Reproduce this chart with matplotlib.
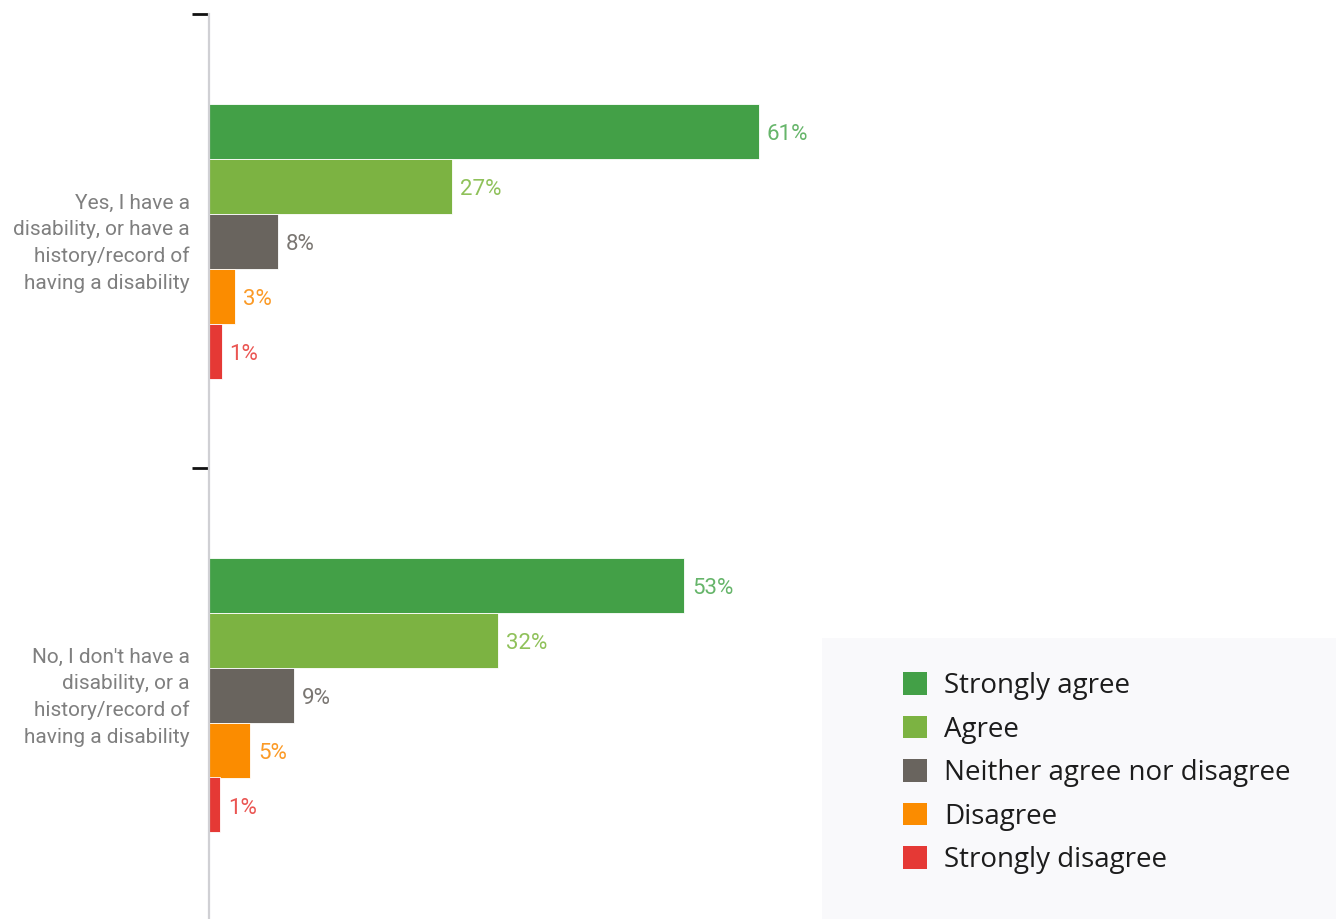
import matplotlib
matplotlib.use("Agg")
import matplotlib.pyplot as plt
from matplotlib.patches import Patch, Rectangle

categories = [
    "Yes, I have a\ndisability, or have a\nhistory/record of\nhaving a disability",
    "No, I don't have a\ndisability, or a\nhistory/record of\nhaving a disability",
]
responses = ["Strongly agree", "Agree", "Neither agree nor disagree", "Disagree", "Strongly disagree"]
yes_values = [61, 27, 7.6, 2.9, 1.4]
no_values = [52.7, 32, 9.4, 4.6, 1.2]
bar_colors = ["#43a047", "#7cb342", "#69645e", "#fb8c00", "#e53935"]
label_colors = ["#66b56a", "#8fc15a", "#7a7672", "#fb9a26", "#ea5552"]

narrow = "Roboto"

W, H = 1336, 919
fig = plt.figure(figsize=(W / 100, H / 100), dpi=100)
ax_left, ax_top = 209 / W, 1 - 14 / H
ax = fig.add_axes([ax_left, 0, 1 - ax_left - 0.3, ax_top])
data_x_per_px = 61 / (759 - 209)
ax.set_xlim(0, (ax.get_position().width * W) * data_x_per_px)
band_px = 454
ax.set_ylim((H - 14) / band_px, 0)

bar_h = 55 / band_px
for ci, vals in enumerate([yes_values, no_values]):
    center = ci + 0.5
    for ri, v in enumerate(vals):
        y = center + (ri - 2) * bar_h
        ax.barh(y, v, height=bar_h, color=bar_colors[ri], edgecolor="#ffffff",
                linewidth=0.6, align="center")
        ax.text(v + 8 * data_x_per_px, y + 3.5 / band_px, f"{round(v):d}%", va="center",
                ha="left", color=label_colors[ri], fontsize=16, family=narrow)

for s in ["top", "right", "bottom"]:
    ax.spines[s].set_visible(False)
ax.spines["left"].set_color("#d0d0d4")
ax.spines["left"].set_linewidth(1.6)
ax.set_xticks([])
ax.set_yticks([0, 1])
ax.set_yticklabels(["", ""])
ax.tick_params(axis="y", which="major", length=12, width=2, color="#111111", direction="out")
ax.set_yticks([0.5 - 3.5 / band_px, 1.5 - 3.5 / band_px], minor=True)
ax.set_yticklabels(categories, minor=True, family=narrow, fontsize=15, color="#7f7f7f",
                   linespacing=1.5)
ax.tick_params(axis="y", which="minor", length=0, pad=14)

# legend background
fig.patches.append(Rectangle((822 / W, 0), (W - 822) / W, (H - 638) / H,
                             transform=fig.transFigure, facecolor="#f9f9fb",
                             edgecolor="none", zorder=0))
handles = [Patch(facecolor=c, edgecolor="none") for c in bar_colors]
leg = fig.legend(handles, responses, loc="upper left",
                 bbox_to_anchor=(903 / W, 1 - 672 / H), frameon=False,
                 prop={"family": "Open Sans", "size": 20}, labelcolor="#1c1c1c",
                 handlelength=0.86, handleheight=0.86, handletextpad=0.61,
                 labelspacing=0.56, borderpad=0, borderaxespad=0)

fig.savefig("out.png", dpi=100)
